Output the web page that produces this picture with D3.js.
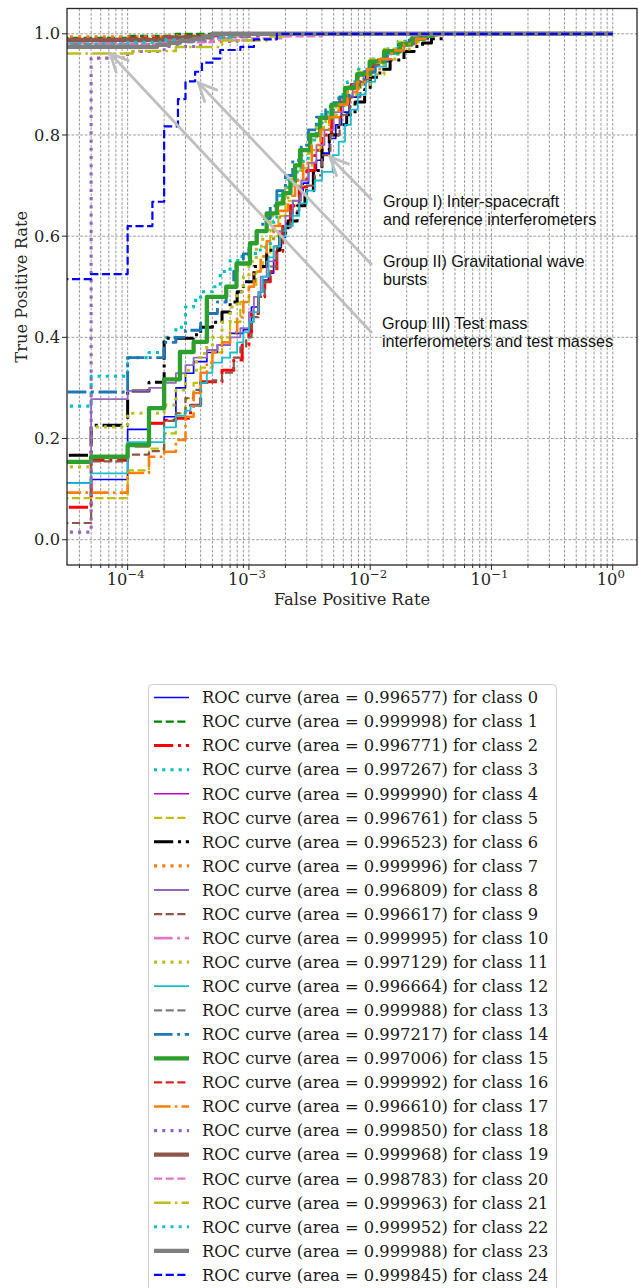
<!DOCTYPE html>
<html>
<head>
<meta charset="utf-8">
<script src="https://cdn.jsdelivr.net/npm/d3@7"></script>
<style>
  html, body { margin: 0; padding: 0; background: #ffffff; }
  svg { display: block; }
</style>
</head>
<body>
<svg id="chart" width="639" height="1288"></svg>
<script>
// ROC curves per class: [false positive rate, true positive rate] corner points
const curve0 = [[0,0.112],[5e-5,0.119],[1e-4,0.218],[1.5e-4,0.23],[2e-4,0.243],[2.5e-4,0.30],[3e-4,0.329],[3.5e-4,0.352],[4.5e-4,0.37],[5.5e-4,0.385],[7e-4,0.408],[9e-4,0.415],[1e-3,0.42],[1.05e-3,0.46],[1.2e-3,0.49],[1.3e-3,0.513],[1.45e-3,0.527],[1.6e-3,0.552],[1.7e-3,0.578],[1.85e-3,0.598],[2e-3,0.618],[2.2e-3,0.645],[2.3e-3,0.67],[2.6e-3,0.685],[2.8e-3,0.705],[3.1e-3,0.73],[3.6e-3,0.75],[4.1e-3,0.764],[4.6e-3,0.793],[5.2e-3,0.82],[5.8e-3,0.845],[6.7e-3,0.875],[7.8e-3,0.9],[9.2e-3,0.925],[1.1e-2,0.945],[1.4e-2,0.965],[1.8e-2,0.98],[2.3e-2,0.99],[3e-2,0.997],[3.6e-2,1],[1,1]];
const curve1 = [[0,0.992],[1e-4,0.996],[2.5e-4,1],[1,1]];
const curve2 = [[0,0.064],[5e-5,0.157],[1e-4,0.185],[1.5e-4,0.23],[2e-4,0.236],[2.5e-4,0.24],[3.3e-4,0.266],[4e-4,0.312],[6e-4,0.335],[7.5e-4,0.355],[8.8e-4,0.385],[1e-3,0.41],[1.05e-3,0.447],[1.2e-3,0.48],[1.35e-3,0.51],[1.5e-3,0.53],[1.7e-3,0.57],[1.9e-3,0.625],[2.2e-3,0.66],[2.6e-3,0.697],[3e-3,0.73],[3.5e-3,0.77],[4e-3,0.8],[4.8e-3,0.835],[5.7e-3,0.865],[7e-3,0.9],[8.5e-3,0.924],[1.05e-2,0.948],[1.3e-2,0.966],[1.7e-2,0.982],[2.2e-2,0.992],[2.9e-2,0.998],[3.5e-2,1],[1,1]];
const curve3 = [[0,0.264],[5e-5,0.323],[1e-4,0.36],[1.5e-4,0.37],[2e-4,0.4],[2.5e-4,0.42],[3e-4,0.46],[3.5e-4,0.473],[4e-4,0.49],[5e-4,0.5],[5.8e-4,0.53],[7e-4,0.552],[8.5e-4,0.56],[1e-3,0.566],[1.24e-3,0.578],[1.5e-3,0.59],[1.6e-3,0.63],[1.7e-3,0.657],[1.8e-3,0.685],[2.1e-3,0.71],[2.5e-3,0.735],[2.8e-3,0.754],[3.2e-3,0.79],[3.6e-3,0.819],[4e-3,0.845],[4.7e-3,0.86],[5.5e-3,0.88],[6.5e-3,0.905],[8e-3,0.93],[1e-2,0.95],[1.3e-2,0.97],[1.7e-2,0.985],[2.2e-2,0.995],[2.8e-2,1],[1,1]];
const curve4 = [[0,0.986],[1e-4,0.99],[3e-4,0.995],[6e-4,1],[1,1]];
const curve5 = [[0,0.082],[1e-4,0.137],[1.5e-4,0.18],[2e-4,0.21],[2.5e-4,0.25],[3e-4,0.28],[3.5e-4,0.31],[4e-4,0.34],[5e-4,0.37],[6e-4,0.40],[7e-4,0.43],[8.5e-4,0.47],[1e-3,0.5],[1.15e-3,0.53],[1.3e-3,0.56],[1.5e-3,0.6],[1.75e-3,0.64],[2e-3,0.67],[2.4e-3,0.7],[2.8e-3,0.735],[3.3e-3,0.77],[3.9e-3,0.81],[4.6e-3,0.84],[5.5e-3,0.87],[6.5e-3,0.895],[8e-3,0.925],[1e-2,0.95],[1.3e-2,0.97],[1.7e-2,0.984],[2.2e-2,0.994],[3e-2,1],[1,1]];
const curve6 = [[0,0.167],[5e-5,0.226],[1e-4,0.294],[1.5e-4,0.311],[2e-4,0.398],[3.5e-4,0.405],[4e-4,0.42],[5e-4,0.43],[6e-4,0.45],[7e-4,0.47],[8e-4,0.49],[9e-4,0.51],[1.1e-3,0.54],[1.4e-3,0.572],[1.8e-3,0.606],[2.1e-3,0.63],[2.5e-3,0.66],[2.9e-3,0.69],[3.4e-3,0.73],[4e-3,0.77],[4.6e-3,0.8],[5.5e-3,0.82],[6.4e-3,0.84],[7.5e-3,0.865],[9e-3,0.89],[1e-2,0.914],[1.2e-2,0.93],[1.46e-2,0.948],[1.9e-2,0.965],[2.3e-2,0.975],[2.7e-2,0.982],[3.2e-2,0.99],[4e-2,1],[1,1]];
const curve7 = [[0,0.994],[2e-4,0.996],[5e-4,0.998],[1e-3,1],[1,1]];
const curve8 = [[0,0.155],[5e-5,0.278],[1e-4,0.294],[1.5e-4,0.30],[2e-4,0.31],[2.5e-4,0.329],[3e-4,0.345],[3.5e-4,0.36],[4.5e-4,0.375],[5.5e-4,0.385],[7e-4,0.40],[8.5e-4,0.418],[1e-3,0.45],[1.1e-3,0.48],[1.25e-3,0.52],[1.4e-3,0.55],[1.6e-3,0.58],[1.8e-3,0.61],[2e-3,0.64],[2.3e-3,0.67],[2.7e-3,0.71],[3.1e-3,0.745],[3.6e-3,0.78],[4.2e-3,0.81],[5e-3,0.845],[6e-3,0.875],[7.2e-3,0.9],[8.8e-3,0.925],[1.1e-2,0.948],[1.4e-2,0.968],[1.8e-2,0.982],[2.3e-2,0.993],[3e-2,1],[1,1]];
const curve9 = [[0,0.033],[5e-5,0.155],[1e-4,0.168],[1.5e-4,0.175],[2e-4,0.235],[2.5e-4,0.25],[3e-4,0.28],[3.5e-4,0.296],[4e-4,0.31],[5e-4,0.315],[6e-4,0.33],[7.5e-4,0.36],[8.5e-4,0.38],[9.5e-4,0.40],[1.05e-3,0.44],[1.2e-3,0.48],[1.35e-3,0.51],[1.5e-3,0.54],[1.7e-3,0.58],[1.9e-3,0.615],[2.2e-3,0.65],[2.6e-3,0.68],[3e-3,0.70],[3.5e-3,0.72],[4e-3,0.76],[4.7e-3,0.80],[5.6e-3,0.84],[6.8e-3,0.875],[8.3e-3,0.91],[1.02e-2,0.938],[1.3e-2,0.96],[1.7e-2,0.977],[2.2e-2,0.99],[2.9e-2,0.997],[3.5e-2,1],[1,1]];
const curve10 = [[0,0.982],[1e-4,0.985],[2e-4,0.988],[4e-4,0.991],[7e-4,0.995],[1e-3,1],[1,1]];
const curve11 = [[0,0.144],[5e-5,0.223],[1e-4,0.25],[2e-4,0.266],[2.5e-4,0.296],[3e-4,0.335],[3.7e-4,0.36],[4.3e-4,0.38],[5e-4,0.40],[6e-4,0.43],[7e-4,0.46],[8e-4,0.49],[9e-4,0.52],[1e-3,0.55],[1.15e-3,0.58],[1.3e-3,0.61],[1.5e-3,0.64],[1.75e-3,0.67],[2e-3,0.70],[2.3e-3,0.73],[2.7e-3,0.76],[3.1e-3,0.79],[3.6e-3,0.815],[4.3e-3,0.84],[5.2e-3,0.86],[6.5e-3,0.88],[8e-3,0.9],[1e-2,0.92],[1.3e-2,0.95],[1.7e-2,0.97],[2.2e-2,0.985],[2.8e-2,0.995],[3.4e-2,1],[1,1]];
const curve12 = [[0,0.112],[5e-5,0.131],[1e-4,0.193],[2e-4,0.222],[2.5e-4,0.245],[3e-4,0.255],[3.3e-4,0.265],[4e-4,0.31],[4.5e-4,0.33],[5e-4,0.35],[6e-4,0.36],[7e-4,0.37],[8e-4,0.39],[9e-4,0.41],[1e-3,0.43],[1.1e-3,0.45],[1.2e-3,0.49],[1.3e-3,0.52],[1.45e-3,0.558],[1.6e-3,0.58],[1.8e-3,0.60],[2e-3,0.62],[2.3e-3,0.64],[2.6e-3,0.665],[3e-3,0.69],[3.5e-3,0.71],[4e-3,0.727],[4.9e-3,0.76],[5.5e-3,0.787],[6.2e-3,0.82],[6.9e-3,0.85],[7.9e-3,0.88],[9.2e-3,0.905],[1.1e-2,0.935],[1.35e-2,0.96],[1.7e-2,0.978],[2.2e-2,0.99],[2.8e-2,0.997],[3.4e-2,1],[1,1]];
const curve13 = [[0,0.98],[1.5e-4,0.985],[5e-4,0.993],[1e-3,1],[1,1]];
const curve14 = [[0,0.292],[1e-4,0.36],[2e-4,0.39],[2.5e-4,0.40],[3e-4,0.414],[4e-4,0.428],[4.5e-4,0.447],[5.5e-4,0.47],[6.5e-4,0.5],[7.5e-4,0.53],[8e-4,0.546],[9e-4,0.565],[1e-3,0.585],[1.15e-3,0.61],[1.3e-3,0.635],[1.5e-3,0.66],[1.7e-3,0.69],[2e-3,0.72],[2.3e-3,0.75],[2.7e-3,0.78],[3.1e-3,0.81],[3.6e-3,0.835],[4.3e-3,0.85],[5e-3,0.864],[5.6e-3,0.875],[6.7e-3,0.895],[7.7e-3,0.906],[9e-3,0.925],[1.1e-2,0.945],[1.35e-2,0.963],[1.7e-2,0.978],[2.1e-2,0.988],[2.6e-2,0.995],[3.2e-2,1],[1,1]];
const curve15 = [[0,0.154],[5e-5,0.164],[1e-4,0.187],[1.5e-4,0.26],[2e-4,0.317],[2.7e-4,0.371],[3.5e-4,0.391],[4.5e-4,0.48],[6.5e-4,0.50],[7.9e-4,0.546],[1.02e-3,0.586],[1.16e-3,0.61],[1.4e-3,0.645],[1.7e-3,0.665],[1.92e-3,0.685],[2.2e-3,0.707],[2.4e-3,0.74],[2.64e-3,0.77],[3.2e-3,0.80],[3.86e-3,0.834],[4.8e-3,0.86],[6.2e-3,0.893],[7.8e-3,0.92],[9.9e-3,0.945],[1.3e-2,0.965],[1.76e-2,0.979],[2.2e-2,0.99],[2.8e-2,0.996],[3.3e-2,1],[1,1]];
const curve16 = [[0,0.989],[1e-4,0.992],[3e-4,0.996],[6e-4,1],[1,1]];
const curve17 = [[0,0.093],[1e-4,0.132],[1.5e-4,0.164],[2e-4,0.174],[2.5e-4,0.197],[3e-4,0.243],[3.5e-4,0.29],[4e-4,0.33],[4.5e-4,0.35],[5e-4,0.37],[6e-4,0.39],[7e-4,0.41],[8e-4,0.44],[9e-4,0.47],[1e-3,0.5],[1.1e-3,0.53],[1.25e-3,0.56],[1.4e-3,0.59],[1.6e-3,0.62],[1.8e-3,0.65],[2.1e-3,0.68],[2.4e-3,0.71],[2.8e-3,0.745],[3.3e-3,0.78],[3.9e-3,0.81],[4.6e-3,0.835],[5.5e-3,0.86],[6.5e-3,0.885],[7.8e-3,0.905],[9.5e-3,0.93],[1.2e-2,0.95],[1.5e-2,0.967],[1.9e-2,0.98],[2.4e-2,0.99],[3e-2,0.997],[3.8e-2,1],[1,1]];
const curve18 = [[0,0.015],[5e-5,0.952],[1e-4,0.965],[2e-4,0.975],[4e-4,0.985],[8e-4,0.995],[1.2e-3,1],[1,1]];
const curve19 = [[0,0.988],[2e-4,0.993],[5e-4,1],[1,1]];
const curve20 = [[0,0.976],[5e-5,0.979],[2e-4,0.983],[5e-4,0.987],[1e-3,0.991],[2e-3,0.995],[4e-3,1],[1,1]];
const curve21 = [[0,0.961],[1.1e-4,0.966],[2.5e-4,0.974],[6e-4,0.987],[1.5e-3,0.995],[2e-3,1],[1,1]];
const curve22 = [[0,0.98],[1e-4,0.983],[2e-4,0.988],[4e-4,0.993],[7e-4,1],[1,1]];
const curve23 = [[0,0.974],[1.75e-4,0.978],[2.2e-4,0.982],[2.7e-4,0.986],[3.5e-4,0.99],[4.2e-4,0.995],[5e-4,1],[1,1]];
const curve24 = [[0,0.515],[5e-5,0.525],[1e-4,0.62],[1.6e-4,0.668],[2e-4,0.817],[2.6e-4,0.871],[3e-4,0.906],[3.6e-4,0.925],[4.1e-4,0.943],[5.1e-4,0.951],[5.8e-4,0.968],[8.5e-4,0.974],[1.1e-3,0.989],[1.7e-3,1],[1,1]];

// Area under each curve, as printed in the legend
const aucLabels = ["0.996577","0.999998","0.996771","0.997267","0.999990","0.996761","0.996523","0.999996","0.996809","0.996617","0.999995","0.997129","0.996664","0.999988","0.997217","0.997006","0.999992","0.996610","0.999850","0.999968","0.998783","0.999963","0.999952","0.999988","0.999845"];

// Axis ticks
const yTickValues = [0, 0.2, 0.4, 0.6, 0.8, 1.0];
const xTickExponents = [-4, -3, -2, -1, 0];

// Group annotations: text lines, arrow tip and tail, text anchor (all in data units)
const groupLines = [
  ["Group I) Inter-spacecraft", "and reference interferometers"],
  ["Group II) Gravitational wave", "bursts"],
  ["Group III) Test mass", "interferometers and test masses"]
];
const groupTips = [[4.66e-3, 0.7565], [3.825e-4, 0.9033], [7.15e-5, 0.9615]];
const groupTails = [[1.035e-2, 0.6715], [1.035e-2, 0.543], [1.035e-2, 0.4086]];
const groupText = [[1.275e-2, 0.658], [1.275e-2, 0.5396], [1.25e-2, 0.4165]];

const curves = [curve0,curve1,curve2,curve3,curve4,curve5,curve6,curve7,curve8,curve9,curve10,curve11,curve12,curve13,curve14,curve15,curve16,curve17,curve18,curve19,curve20,curve21,curve22,curve23,curve24];

// Line styles per class
const colors = ["#0000ff","#008000","#ff0000","#00bfbf","#bf00bf","#bfbf00","#000000","#ff7f0e","#9467bd","#8c564b","#e377c2","#bcbd22","#17becf","#7f7f7f","#1f77b4","#2ca02c","#d62728","#ff7f0e","#9467bd","#8c564b","#e377c2","#bcbd22","#17becf","#7f7f7f","#0000ff"];
const styles = ["solid","dashed","dashdot","dotted","solid","dashed","dashdot","dotted","solid","dashed","dashdot","dotted","solid","dashed","dashdot","solid","dashed","dashdot","dotted","solid","dashed","dashdot","dotted","solid","dashed"];
const widths = [1.7,2.2,3.0,3.1,1.7,2.2,3.0,3.1,1.8,2.2,2.9,3.1,1.8,2.2,2.9,4.3,2.2,2.6,3.1,4.3,2.2,2.6,3.1,4.3,2.2];

function dashArray(style, w) {
  if (style === "dashed") return [3.7 * w, 1.6 * w].join(",");
  if (style === "dashdot") return [6.4 * w, 1.6 * w, 1 * w, 1.6 * w].join(",");
  if (style === "dotted") return [1 * w, 1.65 * w].join(",");
  return null;
}

const svg = d3.select("#chart");
const serif = "'DejaVu Serif', serif";
const sans = "'Liberation Sans', Arial, Helvetica, sans-serif";
const fs = 16.3;

const plot = { left: 67, right: 637, top: 8.5, bottom: 565 };
const x = d3.scaleLog().domain([Math.pow(10, -4.5), Math.pow(10, 0.2)]).range([plot.left, plot.right]);
const y = d3.scaleLinear().domain([-0.05, 1.05]).range([plot.bottom, plot.top]);

svg.append("rect").attr("width", 639).attr("height", 1288).attr("fill", "#ffffff");

svg.append("defs").append("clipPath").attr("id", "plot-clip")
  .append("rect")
  .attr("x", plot.left).attr("y", plot.top)
  .attr("width", plot.right - plot.left).attr("height", plot.bottom - plot.top);

// Grid: major and minor verticals on the log axis, horizontals at y ticks
const minorTicks = [];
for (let e = -5; e <= 0; e++) {
  for (let m = 2; m <= 9; m++) {
    const v = m * Math.pow(10, e);
    if (v > x.domain()[0] && v < x.domain()[1]) minorTicks.push(v);
  }
}
const majorTicks = xTickExponents.map(e => Math.pow(10, e));

const grid = svg.append("g").attr("stroke", "#808080").attr("stroke-width", 0.8)
  .attr("stroke-dasharray", "2.8,1.6").attr("fill", "none");
grid.selectAll("line.gx").data(majorTicks.concat(minorTicks)).join("line")
  .attr("x1", d => x(d)).attr("x2", d => x(d))
  .attr("y1", plot.top).attr("y2", plot.bottom);
grid.selectAll("line.gy").data(yTickValues).join("line")
  .attr("x1", plot.left).attr("x2", plot.right)
  .attr("y1", d => y(d)).attr("y2", d => y(d));

// ROC curves
const line = d3.line()
  .x(d => d[0] > 0 ? x(d[0]) : plot.left - 30)
  .y(d => y(d[1]))
  .curve(d3.curveStepAfter);

const curveLayer = svg.append("g").attr("clip-path", "url(#plot-clip)");
curves.forEach((c, i) => {
  curveLayer.append("path")
    .attr("d", line(c))
    .attr("fill", "none")
    .attr("stroke", colors[i])
    .attr("stroke-width", widths[i])
    .attr("stroke-dasharray", dashArray(styles[i], widths[i]))
    .attr("stroke-linejoin", "round")
    .attr("stroke-linecap", "butt");
});

// Frame
svg.append("rect")
  .attr("x", plot.left).attr("y", plot.top)
  .attr("width", plot.right - plot.left).attr("height", plot.bottom - plot.top)
  .attr("fill", "none").attr("stroke", "#262626").attr("stroke-width", 1.3);

// X axis ticks
const xAxis = svg.append("g").attr("stroke", "#262626").attr("stroke-width", 1);
xAxis.selectAll("line.maj").data(majorTicks).join("line")
  .attr("x1", d => x(d)).attr("x2", d => x(d))
  .attr("y1", plot.bottom).attr("y2", plot.bottom + 5);
xAxis.selectAll("line.min").data(minorTicks).join("line")
  .attr("x1", d => x(d)).attr("x2", d => x(d))
  .attr("y1", plot.bottom).attr("y2", plot.bottom + 3);

const xLabels = svg.append("g").attr("font-family", serif).attr("fill", "#262626");
xTickExponents.forEach(e => {
  const t = xLabels.append("text")
    .attr("x", x(Math.pow(10, e)) - 2)
    .attr("y", 585)
    .attr("text-anchor", "middle")
    .attr("font-size", fs);
  t.append("tspan").text("10");
  t.append("tspan").attr("dy", -7).attr("font-size", 11.7)
    .text(e < 0 ? "\u2212" + Math.abs(e) : String(e));
});

// Y axis ticks
const yAxis = svg.append("g");
yAxis.selectAll("line").data(yTickValues).join("line")
  .attr("x1", plot.left - 5).attr("x2", plot.left)
  .attr("y1", d => y(d)).attr("y2", d => y(d))
  .attr("stroke", "#262626").attr("stroke-width", 1);
yAxis.selectAll("text").data(yTickValues).join("text")
  .attr("x", plot.left - 7)
  .attr("y", d => y(d) + 5.6)
  .attr("text-anchor", "end")
  .attr("font-family", serif).attr("font-size", fs).attr("fill", "#262626")
  .text(d => d3.format(".1f")(d));

// Axis titles
svg.append("text")
  .attr("x", (plot.left + plot.right) / 2).attr("y", 605)
  .attr("text-anchor", "middle")
  .attr("font-family", serif).attr("font-size", fs).attr("fill", "#262626")
  .text("False Positive Rate");
svg.append("text")
  .attr("transform", `translate(27,${(plot.top + plot.bottom) / 2}) rotate(-90)`)
  .attr("text-anchor", "middle")
  .attr("font-family", serif).attr("font-size", fs).attr("fill", "#262626")
  .text("True Positive Rate");

// Group annotations with open arrow heads
const ann = svg.append("g");
groupLines.forEach((lines, i) => {
  const tip = [x(groupTips[i][0]), y(groupTips[i][1])];
  const tail = [x(groupTails[i][0]), y(groupTails[i][1])];
  const ang = Math.atan2(tail[1] - tip[1], tail[0] - tip[0]);
  const armLen = 21, spread = 25 * Math.PI / 180;
  ann.append("line")
    .attr("x1", tail[0]).attr("y1", tail[1]).attr("x2", tip[0]).attr("y2", tip[1])
    .attr("stroke", "#bfbfbf").attr("stroke-width", 2.8);
  ann.append("path")
    .attr("d", d3.line()([
      [tip[0] + armLen * Math.cos(ang - spread), tip[1] + armLen * Math.sin(ang - spread)],
      tip,
      [tip[0] + armLen * Math.cos(ang + spread), tip[1] + armLen * Math.sin(ang + spread)]
    ]))
    .attr("fill", "none").attr("stroke", "#bfbfbf").attr("stroke-width", 2.8)
    .attr("stroke-linejoin", "miter");
  const t = ann.append("text")
    .attr("font-family", sans).attr("font-size", 16.2).attr("fill", "#111111");
  lines.forEach((s, k) => {
    t.append("tspan")
      .attr("x", x(groupText[i][0]))
      .attr("y", y(groupText[i][1]) + k * 18.5)
      .text(s);
  });
});

// Legend
const lg = { x: 148.5, y: 684.5, w: 408, row: 24.06 };
const legend = svg.append("g");
legend.append("rect")
  .attr("x", lg.x).attr("y", lg.y).attr("width", lg.w).attr("height", 612)
  .attr("rx", 4).attr("ry", 4)
  .attr("fill", "#ffffff").attr("fill-opacity", 0.8)
  .attr("stroke", "#cccccc").attr("stroke-width", 1);
curves.forEach((c, i) => {
  const cy = lg.y + 13 + i * lg.row;
  legend.append("line")
    .attr("x1", 154).attr("x2", 189).attr("y1", cy).attr("y2", cy)
    .attr("stroke", colors[i]).attr("stroke-width", widths[i])
    .attr("stroke-dasharray", dashArray(styles[i], widths[i]));
  legend.append("text")
    .attr("x", 202).attr("y", cy + 5.8)
    .attr("font-family", serif).attr("font-size", fs).attr("fill", "#1a1a1a")
    .text(`ROC curve (area = ${aucLabels[i]}) for class ${i}`);
});
</script>
</body>
</html>
